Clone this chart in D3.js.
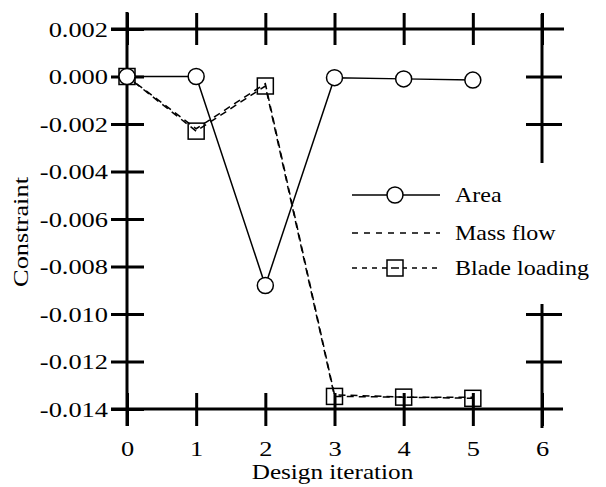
<!DOCTYPE html>
<html>
<head>
<meta charset="utf-8">
<script src="https://cdn.jsdelivr.net/npm/d3@7"></script>
<style>
  html, body { margin: 0; padding: 0; background: #fff; }
  svg { display: block; }
  text { font-family: "Liberation Serif", "Times New Roman", serif; fill: #000; }
</style>
</head>
<body>
<svg id="chart" width="606" height="487"></svg>
<script>
// Constraint history over design iterations
const iterations = [0, 1, 2, 3, 4, 5];
const area         = [0.0000, 0.0000, -0.0088, -0.00005, -0.0001, -0.00015];
const massFlow     = [0.0000, -0.0022, -0.0003, -0.0134, -0.0135, -0.0135];
const bladeLoading = [0.0000, -0.0023, -0.0004, -0.01347, -0.0135, -0.01355];

const xTickValues = [0, 1, 2, 3, 4, 5, 6];
const xTickLabels = ["0", "1", "2", "3", "4", "5", "6"];
const yTickValues = [-0.014, -0.012, -0.010, -0.008, -0.006, -0.004, -0.002, 0.000, 0.002];
const yTickLabels = ["-0.014", "-0.012", "-0.010", "-0.008", "-0.006", "-0.004", "-0.002", "0.000", "0.002"];
const rightTickValues = [0.000, -0.002, -0.010, -0.012];

const legendItems = ["Area", "Mass flow", "Blade loading"];

const svg = d3.select("#chart");
const TX = 1.2; // horizontal stretch of the typeface

const x = d3.scaleLinear().domain([0, 6]).range([127, 542]);
const y = d3.scaleLinear().domain([-0.014, 0.002]).range([409, 29]);

const axisStroke = 3;

// Left axis with tick labels
const gy = svg.append("g")
  .attr("transform", `translate(${x(0)},0)`)
  .call(d3.axisLeft(y).tickValues(yTickValues)
        .tickFormat((d, i) => yTickLabels[i]).tickSize(16).tickPadding(3));
gy.select(".domain").remove();
gy.selectAll(".tick line").attr("x1", 17).attr("stroke", "#000").attr("stroke-width", axisStroke);
gy.selectAll(".tick text")
  .attr("font-size", 22).attr("font-family", "Liberation Serif")
  .attr("x", null).attr("dy", "0.34em")
  .attr("transform", `translate(-19,0) scale(${TX},1)`);

// Bottom axis with tick labels
const gx = svg.append("g")
  .attr("transform", `translate(0,${y(-0.014)})`)
  .call(d3.axisBottom(x).tickValues(xTickValues)
        .tickFormat((d, i) => xTickLabels[i]).tickSize(17).tickPadding(3));
gx.select(".domain").remove();
gx.selectAll(".tick line").attr("y1", -16).attr("stroke", "#000").attr("stroke-width", axisStroke);
gx.selectAll(".tick text")
  .attr("font-size", 22).attr("font-family", "Liberation Serif")
  .attr("y", null).attr("dy", null)
  .attr("transform", `translate(0,47) scale(${TX},1)`);

// Top axis ticks
const gt = svg.append("g")
  .attr("transform", `translate(0,${y(0.002)})`)
  .call(d3.axisTop(x).tickValues(xTickValues).tickFormat("").tickSize(16));
gt.select(".domain").remove();
gt.selectAll(".tick line").attr("y1", 16).attr("stroke", "#000").attr("stroke-width", axisStroke);

// Right axis ticks (frame is interrupted where the legend sits)
const gr = svg.append("g")
  .attr("transform", `translate(${x(6)},0)`)
  .call(d3.axisRight(y).tickValues(rightTickValues).tickFormat("").tickSize(20));
gr.select(".domain").remove();
gr.selectAll(".tick line").attr("x1", -16).attr("stroke", "#000").attr("stroke-width", axisStroke);

// Frame lines
const frame = svg.append("g").attr("stroke", "#000").attr("stroke-width", axisStroke).attr("fill", "none");
frame.append("line").attr("x1", x(0)).attr("x2", x(0)).attr("y1", 12).attr("y2", 426);
frame.append("line").attr("x1", x(0) - 16).attr("x2", 563).attr("y1", y(-0.014)).attr("y2", y(-0.014));
frame.append("line").attr("x1", x(0) - 16).attr("x2", 564).attr("y1", y(0.002)).attr("y2", y(0.002));
frame.append("line").attr("x1", x(6)).attr("x2", x(6)).attr("y1", 14).attr("y2", 163);
frame.append("line").attr("x1", x(6)).attr("x2", x(6)).attr("y1", 304).attr("y2", 428);

// Axis titles
svg.append("text")
  .attr("transform", `translate(${(x(0) + x(6)) / 2 - 2},479) scale(${TX},1)`)
  .attr("text-anchor", "middle").attr("font-size", 21)
  .text("Design iteration");
svg.append("text")
  .attr("transform", `translate(28,232) rotate(-90) scale(${TX},1)`)
  .attr("text-anchor", "middle").attr("font-size", 22)
  .text("Constraint");

// Series
const pts = vals => iterations.map((it, i) => [x(it), y(vals[i])]);
const line = d3.line();

svg.append("path").attr("d", line(pts(massFlow)))
  .attr("fill", "none").attr("stroke", "#000").attr("stroke-width", 1.5)
  .attr("stroke-dasharray", "7,5");
svg.append("path").attr("d", line(pts(bladeLoading)))
  .attr("fill", "none").attr("stroke", "#000").attr("stroke-width", 1.5)
  .attr("stroke-dasharray", "7,5").attr("stroke-dashoffset", 3);
svg.append("g").selectAll("rect").data(pts(bladeLoading)).join("rect")
  .attr("x", d => d[0] - 8).attr("y", d => d[1] - 8)
  .attr("width", 16).attr("height", 16)
  .attr("fill", "none").attr("stroke", "#000").attr("stroke-width", 1.5);

svg.append("path").attr("d", line(pts(area)))
  .attr("fill", "none").attr("stroke", "#000").attr("stroke-width", 1.5);
svg.append("g").selectAll("circle").data(pts(area)).join("circle")
  .attr("cx", d => d[0]).attr("cy", d => d[1]).attr("r", 8)
  .attr("fill", "#fff").attr("stroke", "#000").attr("stroke-width", 1.5);

// Legend
const lg = svg.append("g");
const rowsY = [195, 233, 268];
const lx0 = 352, lx1 = 440, lxm = 395;
// Area
lg.append("line").attr("x1", lx0).attr("x2", lx1).attr("y1", rowsY[0]).attr("y2", rowsY[0])
  .attr("stroke", "#000").attr("stroke-width", 1.5);
lg.append("circle").attr("cx", lxm).attr("cy", rowsY[0]).attr("r", 8)
  .attr("fill", "#fff").attr("stroke", "#000").attr("stroke-width", 1.5);
// Mass flow
lg.append("line").attr("x1", lx0).attr("x2", lx1).attr("y1", rowsY[1]).attr("y2", rowsY[1])
  .attr("stroke", "#000").attr("stroke-width", 1.5).attr("stroke-dasharray", "6,6");
// Blade loading
lg.append("line").attr("x1", lx0).attr("x2", lx1).attr("y1", rowsY[2]).attr("y2", rowsY[2])
  .attr("stroke", "#000").attr("stroke-width", 1.5).attr("stroke-dasharray", "5,5");
lg.append("rect").attr("x", lxm - 8).attr("y", rowsY[2] - 8).attr("width", 16).attr("height", 16)
  .attr("fill", "#fff").attr("stroke", "#000").attr("stroke-width", 1.5);
lg.append("line").attr("x1", lxm - 4).attr("x2", lxm + 4).attr("y1", rowsY[2]).attr("y2", rowsY[2])
  .attr("stroke", "#000").attr("stroke-width", 1.5);
lg.selectAll("text.lbl").data(legendItems).join("text").attr("class", "lbl")
  .attr("transform", (d, i) => `translate(455,${rowsY[i] + 7}) scale(${TX * 0.91},1)`)
  .attr("font-size", 22)
  .text(d => d);
</script>
</body>
</html>
